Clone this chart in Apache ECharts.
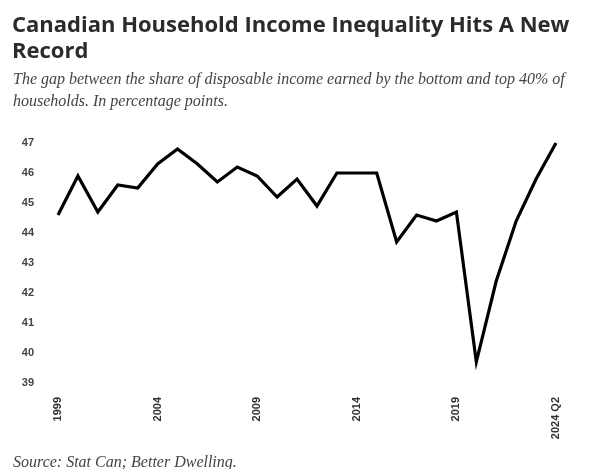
<!DOCTYPE html>
<html>
<head>
<meta charset="utf-8">
<script src="https://cdn.jsdelivr.net/npm/echarts@6/dist/echarts.min.js"></script>
<style>html,body{margin:0;padding:0;background:#fff}#c{width:600px;height:469px}</style>
</head>
<body>
<div id="c"></div>
<script>
var categories = ['1999','2000','2001','2002','2003','2004','2005','2006','2007','2008','2009','2010','2011','2012','2013','2014','2015','2016','2017','2018','2019','2020','2021','2022','2023','2024 Q2'];
var values = [44.6,45.9,44.7,45.6,45.5,46.3,46.8,46.3,45.7,46.2,45.9,45.2,45.8,44.9,46.0,46.0,46.0,43.7,44.6,44.4,44.7,39.7,42.4,44.4,45.8,47.0];
var yMin = 39, yMax = 47;

var chart = echarts.init(document.getElementById('c'));
chart.setOption({
  animation: false,
  backgroundColor: '#fff',
  title: [
    {
      text: 'Canadian Household Income Inequality Hits A New\nRecord',
      left: 7, top: 8,
      textStyle: { fontFamily: 'Open Sans', fontWeight: 700, fontSize: 22, color: '#2b2b2b', lineHeight: 26 }
    },
    {
      text: 'The gap between the share of disposable income earned by the bottom and top 40% of\nhouseholds. In percentage points.',
      left: 8, top: 64,
      textStyle: { fontFamily: 'Liberation Serif', fontStyle: 'italic', fontWeight: 'normal', fontSize: 16, color: '#444', lineHeight: 22 }
    },
    {
      text: 'Source: Stat Can; Better Dwelling.',
      left: 8, top: 450,
      textStyle: { fontFamily: 'Liberation Serif', fontStyle: 'italic', fontWeight: 'normal', fontSize: 16, color: '#444' }
    }
  ],
  grid: { left: 58, right: 44, top: 143, bottom: 86, containLabel: false },
  xAxis: {
    type: 'category',
    data: categories,
    boundaryGap: false,
    axisLine: { show: false },
    axisTick: { show: false },
    axisLabel: {
      interval: 4,
      rotate: 90,
      margin: 14,
      fontFamily: 'Liberation Sans',
      fontWeight: 'bold',
      fontSize: 11,
      color: '#333'
    }
  },
  yAxis: {
    type: 'value',
    min: yMin, max: yMax, interval: 1,
    splitLine: { show: false },
    axisLine: { show: false },
    axisTick: { show: false },
    axisLabel: {
      margin: 24,
      fontFamily: 'Liberation Sans',
      fontWeight: 'bold',
      fontSize: 11,
      color: '#444'
    }
  },
  series: [{
    type: 'line',
    data: values,
    showSymbol: false,
    lineStyle: { color: '#000', width: 3.2, join: 'miter' }
  }]
});
</script>
</body>
</html>
